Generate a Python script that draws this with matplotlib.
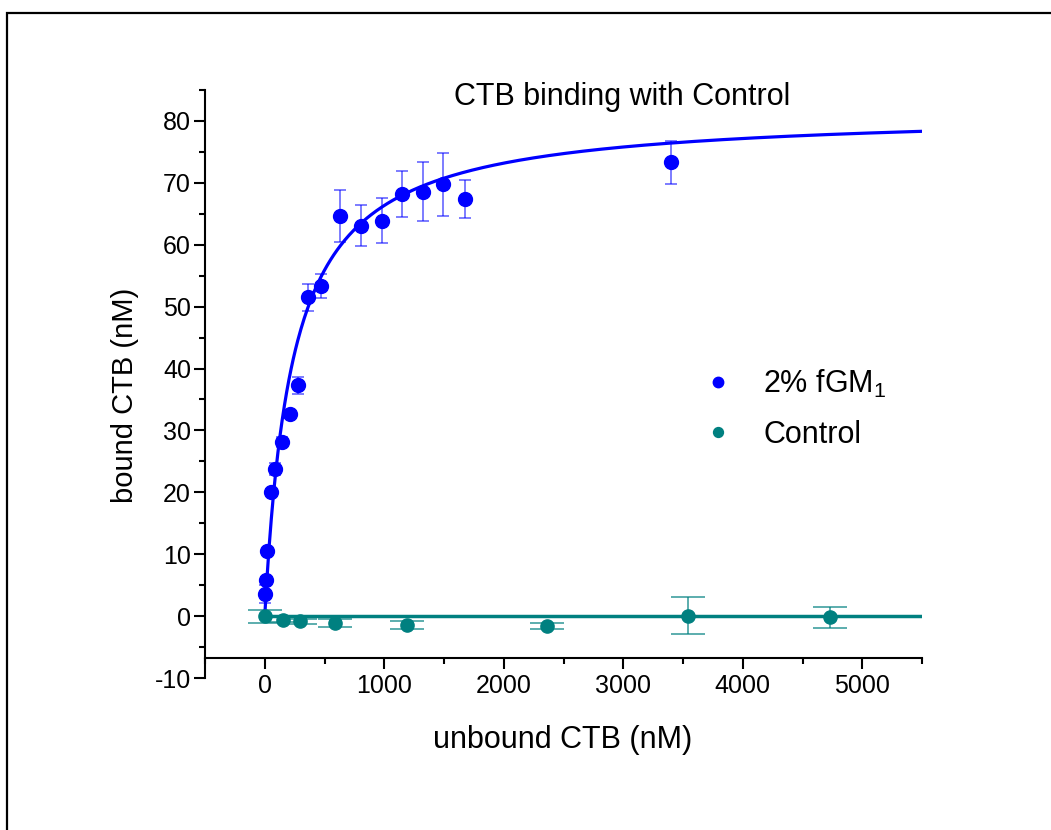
import numpy as np
import matplotlib
matplotlib.use('Agg')
from matplotlib import pyplot as plt
from matplotlib.patches import Rectangle
from matplotlib.ticker import MultipleLocator

plt.rcParams['font.family'] = ['Liberation Sans', 'DejaVu Sans']
plt.rcParams['mathtext.fontset'] = 'custom'
plt.rcParams['mathtext.rm'] = 'Liberation Sans'
plt.rcParams['mathtext.it'] = 'Liberation Sans'
plt.rcParams['axes.unicode_minus'] = False

# 2% fGM1 binding data
gm1_x = [5, 11, 22, 53, 82, 146, 213, 275, 366, 470, 630, 805, 978, 1151, 1322, 1493, 1673, 3400]
gm1_y = [3.6, 5.8, 10.5, 20.1, 23.8, 28.2, 32.7, 37.3, 51.5, 53.3, 64.6, 63.1, 63.9, 68.2, 68.6, 69.8, 67.4, 73.3]
gm1_err = [1.5, 0.5, 0.4, 0.5, 1.0, 0.8, 0.6, 1.35, 2.2, 1.9, 4.2, 3.3, 3.7, 3.7, 4.7, 5.1, 3.0, 3.5]

# control data
ctrl_x = [0, 149, 295, 589, 1187, 2365, 3544, 4728]
ctrl_y = [0.0, -0.6, -0.8, -1.1, -1.45, -1.6, 0.05, -0.2]
ctrl_err = [1.05, 0.4, 0.4, 0.7, 0.65, 0.45, 3.0, 1.75]

# one-site binding fit parameters
bmax = 81.6
kd = 230.0
ctrl_level = 0.0

blue = '#0000FF'
teal = '#008080'

fig = plt.figure(figsize=(10.51, 8.30), dpi=100)
ax = fig.add_axes([205 / 1051, 1 - 678 / 830, 717 / 1051, 588 / 830])

xf = np.linspace(0, 5500, 600)
ax.plot(xf, bmax * xf / (kd + xf), color=blue, lw=2.3, zorder=3)
ax.plot([0, 5500], [ctrl_level, ctrl_level], color=teal, lw=2.5, zorder=3)

ax.errorbar(gm1_x, gm1_y, yerr=gm1_err, fmt='none', ecolor=blue, alpha=0.6,
            elinewidth=1.2, capsize=4, capthick=1.2, zorder=2)
ax.errorbar(ctrl_x, ctrl_y, yerr=ctrl_err, fmt='none', ecolor=teal, alpha=0.75,
            elinewidth=1.2, capsize=12.5, capthick=1.2, zorder=2)
ax.plot(gm1_x, gm1_y, 'o', color=blue, ms=10, mec=blue, zorder=4, label='2% fGM$_1$')
ax.plot(ctrl_x, ctrl_y, 'o', color=teal, ms=9.5, mec=teal, zorder=4, label='Control')

ax.set_xlim(-500, 5500)
ax.set_ylim(-10, 85)
ax.spines['top'].set_visible(False)
ax.spines['right'].set_visible(False)
ax.spines['bottom'].set_position(('data', -6.83))
for s in ('left', 'bottom'):
    ax.spines[s].set_linewidth(1.5)

ax.xaxis.set_minor_locator(MultipleLocator(500))
ax.yaxis.set_minor_locator(MultipleLocator(5))
ax.set_xticks(np.arange(0, 5001, 1000))
ax.set_yticks(np.arange(-10, 81, 10))
ax.tick_params(which='major', direction='out', length=8, width=1.5, labelsize=18)
ax.tick_params(which='minor', direction='out', length=4.5, width=1.5)
ax.tick_params(axis='y', pad=2)
ax.tick_params(axis='x', pad=3)

fig.text(563 / 1051, 1 - 740 / 830, 'unbound CTB (nM)', fontsize=22, ha='center', va='center')
fig.text(125 / 1051, 1 - 395 / 830, 'bound CTB (nM)', fontsize=21, ha='center', va='center',
         rotation=90)
fig.text(622 / 1051, 1 - 97 / 830, 'CTB binding with Control', fontsize=22, ha='center',
         va='center')

ax.legend(loc='upper left', bbox_to_anchor=(700 / 1051, 1 - 368 / 830),
          bbox_transform=fig.transFigure, frameon=False, fontsize=22,
          handlelength=1.2, handletextpad=0.87, labelspacing=0.64, markerscale=0.75,
          borderpad=0, borderaxespad=0)

fig.patches.append(Rectangle((7 / 1051, -0.5), 2, 0.5 + 1 - 13 / 830, transform=fig.transFigure,
                             fill=False, lw=1.6, ec='black', clip_on=False))

plt.savefig('out.png', dpi=100)
